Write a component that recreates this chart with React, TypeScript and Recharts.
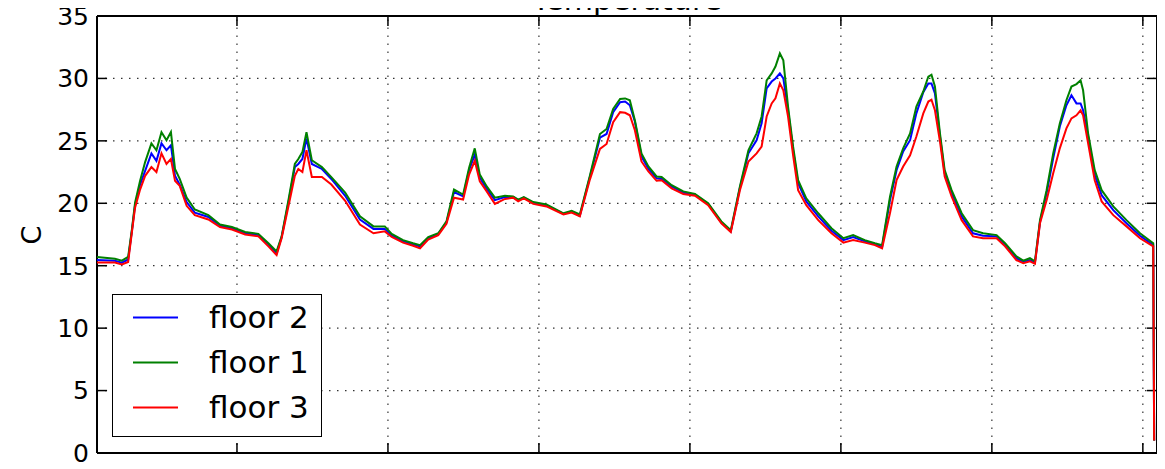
import { LineChart, Line, XAxis, YAxis, CartesianGrid, Legend, ReferenceLine } from "recharts";

// hours since midnight of the first day, one reading per row
const hours = [
  1.75, 4.6, 5.7, 6.7, 7.3, 7.8, 8.6, 9.4, 10.4, 11.2,
  12.0, 12.8, 13.5, 14.15, 14.9, 16.0, 17.3, 19.45, 21.3, 23.2,
  25.3, 27.4, 29.0, 30.3, 31.1, 32.2, 33.2, 33.75, 34.4, 35.05,
  35.9, 37.5, 39.0, 41.2, 43.55, 45.7, 47.5, 48.6, 50.4, 52.0,
  53.1, 54.4, 56.0, 57.3, 58.5, 59.95, 60.9, 61.8, 62.6, 63.7,
  65.0, 66.6, 67.9, 68.7, 69.6, 71.1, 73.2, 75.9, 77.2, 78.5,
  80.1, 81.7, 82.75, 83.8, 84.9, 85.7, 86.45, 87.25, 88.3, 89.4,
  90.7, 91.5, 93.1, 94.95, 96.8, 98.9, 101.0, 102.5, 103.95, 105.3,
  106.6, 107.4, 108.2, 109.0, 109.6, 110.3, 110.85, 111.6, 112.4, 113.2,
  114.5, 116.4, 118.5, 120.4, 121.95, 123.8, 125.4, 126.55, 127.8, 128.85,
  129.9, 131.0, 132.0, 133.1, 133.9, 134.4, 134.95, 135.75, 136.5, 137.6,
  139.2, 141.0, 142.6, 144.75, 146.1, 147.9, 149.0, 150.05, 150.85, 151.65,
  152.7, 153.75, 154.8, 155.85, 156.65, 157.45, 158.1, 158.5, 159.3, 160.35,
  161.45, 163.3, 165.4, 167.55, 169.65, 169.8,
];

const floor1 = [
  15.7, 15.55, 15.4, 15.7, 17.9, 20.05, 21.8, 23.3, 24.8, 24.25,
  25.7, 25.05, 25.7, 22.75, 21.95, 20.45, 19.5, 19.05, 18.3, 18.1,
  17.7, 17.55, 16.8, 16.15, 17.35, 20.3, 23.15, 23.55, 24.1, 25.7,
  23.45, 22.9, 22.1, 20.85, 18.95, 18.15, 18.15, 17.55, 17.05, 16.8,
  16.65, 17.3, 17.6, 18.55, 21.1, 20.7, 22.85, 24.4, 22.3, 21.35,
  20.45, 20.6, 20.55, 20.3, 20.5, 20.1, 19.9, 19.2, 19.4, 19.1,
  22.2, 25.55, 25.95, 27.55, 28.35, 28.4, 28.25, 26.65, 24.0, 22.95,
  22.15, 22.1, 21.45, 20.95, 20.75, 20.0, 18.55, 17.85, 21.35, 24.25,
  25.6, 26.95, 29.85, 30.4, 30.95, 32.0, 31.45, 27.75, 24.55, 21.85,
  20.4, 19.2, 18.0, 17.2, 17.45, 17.05, 16.8, 16.65, 20.5, 22.95,
  24.4, 25.6, 27.75, 28.95, 30.15, 30.3, 29.35, 25.6, 22.65, 21.05,
  19.2, 17.85, 17.6, 17.45, 16.8, 15.75, 15.4, 15.6, 15.35, 18.65,
  21.05, 24.0, 26.4, 28.25, 29.35, 29.55, 29.85, 29.05, 25.6, 22.65,
  21.05, 19.75, 18.65, 17.6, 16.8, 1.0,
];

const floor2 = [
  15.45, 15.4, 15.25, 15.5, 17.8, 19.85, 21.5, 22.6, 24.0, 23.4,
  24.8, 24.25, 24.65, 22.2, 21.5, 20.1, 19.25, 18.9, 18.2, 18.0,
  17.6, 17.45, 16.7, 16.0, 17.3, 20.1, 22.9, 23.15, 23.55, 25.2,
  23.15, 22.75, 21.95, 20.6, 18.7, 17.95, 17.95, 17.4, 16.95, 16.7,
  16.55, 17.2, 17.55, 18.45, 20.9, 20.55, 22.65, 23.9, 22.05, 21.15,
  20.25, 20.5, 20.5, 20.25, 20.45, 20.05, 19.85, 19.15, 19.35, 19.0,
  22.1, 25.25, 25.55, 27.3, 28.1, 28.15, 27.85, 26.55, 23.75, 22.75,
  22.0, 21.95, 21.35, 20.85, 20.7, 19.95, 18.45, 17.75, 21.25, 24.0,
  25.05, 26.4, 29.2, 29.75, 30.0, 30.4, 30.0, 27.45, 24.25, 21.6,
  20.15, 18.95, 17.8, 17.05, 17.3, 16.95, 16.75, 16.5, 20.25, 22.65,
  24.15, 25.05, 27.2, 28.9, 29.6, 29.6, 28.8, 25.35, 22.4, 20.8,
  18.95, 17.6, 17.4, 17.35, 16.65, 15.6, 15.3, 15.45, 15.25, 18.5,
  20.8, 23.6, 26.15, 27.85, 28.65, 28.0, 28.0, 27.45, 25.35, 22.25,
  20.65, 19.45, 18.4, 17.4, 16.65, 1.0,
];

const floor3 = [
  15.25, 15.25, 15.1, 15.3, 17.7, 19.65, 21.1, 22.2, 22.9, 22.5,
  24.0, 23.15, 23.55, 21.8, 21.4, 19.8, 19.05, 18.7, 18.1, 17.9,
  17.5, 17.35, 16.55, 15.85, 17.2, 19.8, 22.2, 22.75, 22.5, 24.25,
  22.1, 22.1, 21.5, 20.2, 18.3, 17.6, 17.75, 17.3, 16.85, 16.6,
  16.4, 17.1, 17.45, 18.35, 20.45, 20.3, 22.3, 23.4, 21.75, 20.95,
  19.95, 20.35, 20.45, 20.15, 20.4, 19.95, 19.75, 19.1, 19.25, 18.95,
  21.9, 24.35, 24.75, 26.5, 27.3, 27.25, 27.05, 25.85, 23.35, 22.55,
  21.8, 21.85, 21.2, 20.75, 20.6, 19.85, 18.4, 17.7, 21.05, 23.35,
  24.0, 24.55, 26.95, 28.0, 28.4, 29.6, 29.05, 26.95, 23.85, 21.05,
  19.85, 18.65, 17.6, 16.85, 17.05, 16.85, 16.65, 16.4, 19.2, 21.85,
  22.95, 23.85, 25.35, 27.2, 28.15, 28.3, 27.45, 24.95, 22.15, 20.55,
  18.65, 17.35, 17.2, 17.2, 16.55, 15.45, 15.2, 15.35, 15.15, 18.4,
  20.25, 22.4, 24.4, 26.0, 26.8, 27.05, 27.45, 27.05, 24.8, 21.85,
  20.15, 19.05, 18.15, 17.2, 16.55, 1.0,
];

const xTicks = [24, 48, 72, 96, 120, 144, 168];
const yTicks = [0, 5, 10, 15, 20, 25, 30, 35];
const legendOrder = ["floor 2", "floor 1", "floor 3"];

const X_MIN = 1.75;
const X_MAX = 170.25;
const Y_MIN = 0;
const Y_MAX = 35;
// inward tick marks, about 10px long
const X_TICK_LEN = 1.6;
const Y_TICK_LEN = 0.8;

const FONT = "'DejaVu Sans', sans-serif";
const GRID_DASH = "1.5 6.5";

const data = hours.map((h, i) => ({
  hour: h,
  floor1: floor1[i],
  floor2: floor2[i],
  floor3: floor3[i],
}));

function renderLegend(props: any) {
  const items = [...(props.payload || [])].sort(
    (a: any, b: any) => legendOrder.indexOf(a.value) - legendOrder.indexOf(b.value)
  );
  return (
    <div
      style={{
        width: 210,
        height: 143,
        boxSizing: "border-box",
        border: "1.5px solid #000",
        background: "#fff",
        fontFamily: FONT,
        fontSize: 31,
        color: "#000",
      }}
    >
      {items.map((entry: any) => (
        <div key={entry.value} style={{ position: "relative", height: 45 }}>
          <svg width={46} height={45} style={{ position: "absolute", left: 19.5, top: 0 }}>
            <line x1={0} y1={22.5} x2={45} y2={22.5} stroke={entry.color} strokeWidth={2} />
          </svg>
          <span style={{ position: "absolute", left: 96, top: 0, lineHeight: "45px", whiteSpace: "nowrap" }}>
            {entry.value}
          </span>
        </div>
      ))}
    </div>
  );
}

const seg = (x1: number, y1: number, x2: number, y2: number) => [
  { x: x1, y: y1 },
  { x: x2, y: y2 },
];

export default function App() {
  return (
    <div style={{ position: "relative", width: 1157, height: 469, marginTop: -8 }}>
      <LineChart width={1157} height={469} data={data} margin={{ top: 16, right: 8, bottom: 16, left: 0 }}>
        <CartesianGrid vertical={false} stroke="#333" strokeWidth={1.2} strokeDasharray={GRID_DASH} />
        <XAxis
          dataKey="hour"
          type="number"
          domain={[X_MIN, X_MAX]}
          ticks={xTicks}
          tick={false}
          tickLine={false}
          axisLine={false}
          height={0}
        />
        <YAxis
          type="number"
          domain={[Y_MIN, Y_MAX]}
          ticks={yTicks}
          width={89}
          tickLine={false}
          axisLine={false}
          tickSize={0}
          tickMargin={8}
          tick={{ fontFamily: FONT, fontSize: 25, fill: "#000" }}
        />
        {xTicks.map((t) => (
          <ReferenceLine key={`g-${t}`} segment={seg(t, Y_MIN, t, Y_MAX)} stroke="#333" strokeWidth={1.2} strokeDasharray={GRID_DASH} />
        ))}
        {/* axes frame */}
        <ReferenceLine segment={seg(X_MIN, Y_MIN, X_MAX, Y_MIN)} stroke="#000" strokeWidth={2} />
        <ReferenceLine segment={seg(X_MIN, Y_MAX, X_MAX, Y_MAX)} stroke="#000" strokeWidth={2} />
        <ReferenceLine segment={seg(X_MIN, Y_MIN, X_MIN, Y_MAX)} stroke="#000" strokeWidth={2} />
        <ReferenceLine segment={seg(X_MAX, Y_MIN, X_MAX, Y_MAX)} stroke="#000" strokeWidth={2} />
        {xTicks.map((t) => (
          <ReferenceLine key={`xb-${t}`} segment={seg(t, Y_MIN, t, Y_MIN + Y_TICK_LEN)} stroke="#000" strokeWidth={1.5} />
        ))}
        {xTicks.map((t) => (
          <ReferenceLine key={`xt-${t}`} segment={seg(t, Y_MAX, t, Y_MAX - Y_TICK_LEN)} stroke="#000" strokeWidth={1.5} />
        ))}
        {yTicks.map((t) => (
          <ReferenceLine key={`yl-${t}`} segment={seg(X_MIN, t, X_MIN + X_TICK_LEN, t)} stroke="#000" strokeWidth={1.5} />
        ))}
        {yTicks.map((t) => (
          <ReferenceLine key={`yr-${t}`} segment={seg(X_MAX, t, X_MAX - X_TICK_LEN, t)} stroke="#000" strokeWidth={1.5} />
        ))}
        <Line type="linear" dataKey="floor2" name="floor 2" stroke="#0000ff" strokeWidth={2} dot={false} isAnimationActive={false} />
        <Line type="linear" dataKey="floor1" name="floor 1" stroke="#008000" strokeWidth={2} dot={false} isAnimationActive={false} />
        <Line type="linear" dataKey="floor3" name="floor 3" stroke="#ff0000" strokeWidth={2} dot={false} isAnimationActive={false} />
        <Legend
          layout="vertical"
          align="center"
          verticalAlign="middle"
          content={renderLegend}
          wrapperStyle={{ left: 104, top: 294, width: 210, height: 143 }}
        />
      </LineChart>
      <div
        style={{
          position: "absolute",
          left: 619,
          top: 0,
          transform: "translate(-50%, -100%)",
          marginTop: 8,
          height: 40,
          fontFamily: FONT,
          fontSize: 30,
          lineHeight: "30px",
          whiteSpace: "nowrap",
          color: "#000",
          display: "flex",
          alignItems: "flex-end",
          zIndex: 2,
        }}
      >
        <span style={{ display: "inline-block", lineHeight: "30px", transform: "translateY(7px)" }}>Temperature</span>
      </div>
      <div
        style={{
          position: "absolute",
          left: 23,
          top: 234.5,
          transform: "translate(-50%, -50%) rotate(-90deg)",
          fontFamily: FONT,
          fontSize: 27,
          lineHeight: "27px",
          color: "#000",
          zIndex: 2,
        }}
      >
        C
      </div>
    </div>
  );
}
